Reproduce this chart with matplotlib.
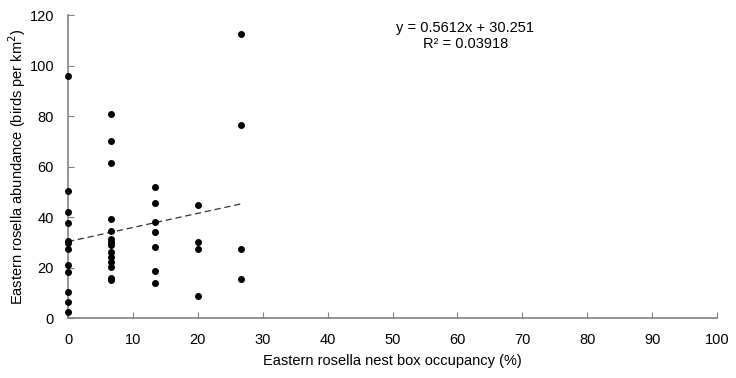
import matplotlib
matplotlib.use("Agg")
import matplotlib.pyplot as plt
import numpy as np

plt.rcParams['font.family'] = ['Liberation Sans', 'DejaVu Sans']

x0 = [0]*12
y0 = [95.8, 50.4, 41.9, 37.5, 30.7, 29.8, 27.2, 21.0, 18.3, 10.2, 6.5, 2.5]
x1 = [6.67]*14
y1 = [80.8, 70.1, 61.5, 39.2, 34.6, 31.4, 28.9, 26.0, 24.3, 22.3, 20.3, 15.7, 15.0, 30.3]
x2 = [13.33]*7
y2 = [52.0, 45.4, 38.1, 34.2, 28.1, 18.7, 14.0]
x3 = [20]*4
y3 = [44.9, 30.1, 27.4, 8.7]
x4 = [26.67]*4
y4 = [112.6, 76.4, 27.3, 15.3]

slope, intercept = 0.5612, 30.251
fit_x = [0, 26.67]

xs = x0 + x1 + x2 + x3 + x4
ys = y0 + y1 + y2 + y3 + y4

fig = plt.figure(figsize=(7.36, 3.78), dpi=100)
ax = fig.add_axes([0.0924, 0.1587, 0.8818, 0.8013])
ax.scatter(xs, ys, s=16, color='black', zorder=3, clip_on=False)
fx = np.array(fit_x)
ax.plot(fx, slope*fx + intercept, linestyle=(0, (5, 3)), color='#333333', linewidth=0.9)

ax.set_xlim(0, 100)
ax.set_ylim(0, 120)
ax.set_xticks(np.arange(0, 101, 10))
ax.set_yticks(np.arange(0, 121, 20))
for s in ['top', 'right']:
    ax.spines[s].set_visible(False)
for s in ['left', 'bottom']:
    ax.spines[s].set_color('#808080')
    ax.spines[s].set_linewidth(1.2)
ax.tick_params(direction='in', length=4, color='#808080', labelsize=10.5)
ax.tick_params(axis='x', pad=11)
ax.tick_params(axis='y', pad=10)
ax.set_xlabel('Eastern rosella nest box occupancy (%)', fontsize=10.5, labelpad=5)
ax.set_ylabel('Eastern rosella abundance (birds per km$^2$)', fontsize=10.5, labelpad=1)
ax.text(61.2, 117.5, 'y = 0.5612x + 30.251\nR² = 0.03918',
        ha='center', va='top', fontsize=10.5, linespacing=1.1)
fig.savefig('out.png', dpi=100)
